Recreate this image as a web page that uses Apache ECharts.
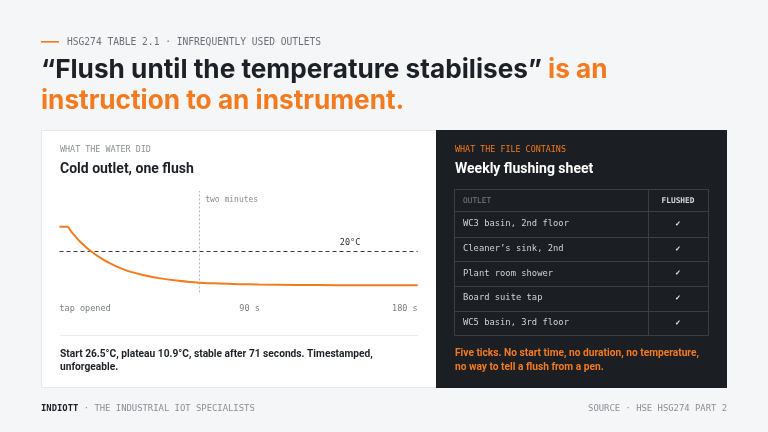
<!DOCTYPE html>
<html><head><meta charset="utf-8">
<script src="https://cdn.jsdelivr.net/npm/echarts@6/dist/echarts.min.js"></script>
<style>html,body{margin:0;padding:0;background:#f5f6f8}#c{width:768px;height:432px}</style>
</head><body><div id="c"></div>
<script>
// ---- data ----
const seconds = [0,4,6,8,10,12,14,16,18,20,23,26,30,35,40,45,50,60,70,80,90,100,120,140,160,180];
const tempC   = [26.5,26.5,25.1,23.9,22.7,21.7,20.7,19.9,19.1,18.4,17.4,16.6,15.6,14.6,13.9,13.3,12.8,12.1,11.6,11.4,11.2,11.1,11.0,10.9,10.9,10.9];
const thresholdC = 20;
const markerSeconds = 70;
const xTicks = {0:'tap opened', 90:'90 s', 180:'180 s'};
const outlets = ['WC3 basin, 2nd floor','Cleaner\u2019s sink, 2nd','Plant room shower','Board suite tap','WC5 basin, 3rd floor'];
const flushed = ['\u2713','\u2713','\u2713','\u2713','\u2713'];

const ORANGE = '#f47a1f';
const MONO = '"DejaVu Sans Mono", "Liberation Mono", monospace';
const SANS = 'Roboto, "Noto Sans", sans-serif';
const HEAD = 'Inter, Roboto, sans-serif';

const chart = echarts.init(document.getElementById('c'), null, {renderer:'canvas'});

const graphics = [];
function txt(x,y,text,font,fill,align,extra){
  graphics.push(Object.assign({type:'text', x:x, y:y, z:10, style:{text:text, font:font, fill:fill, textAlign:align||'left', textVerticalAlign:'middle'}}, extra||{}));
}
// header
graphics.push({type:'rect', shape:{x:41,y:41,width:18,height:1.6}, style:{fill:ORANGE}});
txt(67,42,'HSG274 TABLE 2.1 \u00b7 INFREQUENTLY USED OUTLETS','500 9.6px '+MONO,'#6b7078');
graphics.push({type:'text', x:41, y:70, style:{
  text:'{d|\u201cFlush until the temperature stabilises\u201d}{o| is an}',
  textVerticalAlign:'middle',
  rich:{d:{font:'bold 26.2px '+HEAD, fill:'#1d2127'}, o:{font:'bold 26.2px '+HEAD, fill:ORANGE}}}});
txt(41,101,'instruction to an instrument.','bold 26.2px '+HEAD,ORANGE);

// cards
graphics.push({type:'rect', shape:{x:41.5,y:130.5,width:395,height:257}, style:{fill:'#ffffff', stroke:'#e6e8eb', lineWidth:1}, z:0});
graphics.push({type:'rect', shape:{x:436,y:130,width:291,height:258}, style:{fill:'#1b1e23'}, z:0});

// left card text
txt(60,150,'WHAT THE WATER DID','8.4px '+MONO,'#8a8f96');
txt(60,169,'Cold outlet, one flush','bold 14px '+SANS,'#1d2127');
graphics.push({type:'rect', shape:{x:60,y:335,width:358,height:1}, style:{fill:'#e8eaed'}});
txt(60,354,'Start 26.5\u00b0C, plateau 10.9\u00b0C, stable after 71 seconds. Timestamped,','bold 10.2px '+SANS,'#1d2127');
txt(60,367,'unforgeable.','bold 10.2px '+SANS,'#1d2127');

// right card text
txt(455,150,'WHAT THE FILE CONTAINS','8.4px '+MONO,ORANGE);
txt(455,169,'Weekly flushing sheet','bold 14px '+SANS,'#ffffff');
// table
const tL=454.5, tR=708.5, colX=648.5, tTop=189.5, headB=211;
const rowB=[236.5,261,285.5,310.5,335.5];
graphics.push({type:'rect', shape:{x:tL,y:tTop,width:tR-tL,height:rowB[4]-tTop}, style:{fill:'none', stroke:'#3a3f47', lineWidth:1}, z:5});
graphics.push({type:'line', shape:{x1:colX,y1:tTop,x2:colX,y2:rowB[4]}, style:{stroke:'#3a3f47', lineWidth:1}, z:5});
[headB].concat(rowB.slice(0,4)).forEach(function(y){
  graphics.push({type:'line', shape:{x1:tL,y1:Math.round(y)+0.5,x2:tR,y2:Math.round(y)+0.5}, style:{stroke:'#3a3f47', lineWidth:1}, z:5});
});
txt(463,200.5,'OUTLET','7.8px '+MONO,'#7a8089');
txt(678,200.5,'FLUSHED','bold 7.8px '+MONO,'#d5d8dc','center');
let prev=headB;
outlets.forEach(function(o,i){
  const cy=(prev+rowB[i])/2; prev=rowB[i];
  txt(463,cy,o,'8.8px '+MONO,'#cfd3d8');
  txt(678,cy,flushed[i],'bold 7px '+SANS,'#e8eaed','center');
});
txt(455,353.5,'Five ticks. No start time, no duration, no temperature,','bold 10.2px '+SANS,ORANGE);
txt(455,367,'no way to tell a flush from a pen.','bold 10.2px '+SANS,ORANGE);

// footer
graphics.push({type:'text', x:41, y:408.5, style:{text:'{b|INDIOTT}{g| \u00b7 THE INDUSTRIAL IOT SPECIALISTS}', textVerticalAlign:'middle',
  rich:{b:{font:'bold 8.9px '+MONO, fill:'#1d2127'}, g:{font:'8.9px '+MONO, fill:'#8a8f96'}}}});
txt(727,408.5,'SOURCE \u00b7 HSE HSG274 PART 2','8.9px '+MONO,'#8a8f96','right');

const option = {
  backgroundColor:'#f5f6f8',
  animation:false,
  graphic: graphics,
  grid:{left:59.5, top:191, width:358.2, height:101.4, containLabel:false},
  xAxis:{type:'value', min:0, max:180, interval:90,
    axisLine:{show:false}, axisTick:{show:false}, splitLine:{show:false},
    axisLabel:{show:true, margin:12, alignMinLabel:'left', alignMaxLabel:'right', color:'#777c84', fontFamily:MONO, fontSize:8.5,
      formatter:function(v){ return v===90 ? '{m|'+xTicks[v]+'}' : (xTicks[v]||''); },
      rich:{m:{padding:[0,0,0,22], color:'#777c84', fontFamily:MONO, fontSize:8.5}}}},
  yAxis:{type:'value', min:9, max:36, show:false, splitLine:{show:false}},
  series:[{
    type:'line', data: seconds.map(function(s,i){return [s,tempC[i]];}),
    showSymbol:false, smooth:0.2, z:5,
    lineStyle:{color:ORANGE, width:2},
    markLine:{silent:true, symbol:['none','none'], label:{show:false},
      data:[
        {yAxis:thresholdC, lineStyle:{color:'#3a3d42', width:1, type:[4,3]}},
        {xAxis:markerSeconds, lineStyle:{color:'#b3b7bd', width:1, type:[2,2]}}
      ]},
    markPoint:{silent:true, symbolSize:0,
      data:[
        {coord:[73.2,33.6], label:{show:true, position:'inside', align:'left', formatter:'two minutes', color:'#8a8f96', fontFamily:MONO, fontSize:8}},
        {coord:[146,22.2], label:{show:true, position:'inside', align:'center', formatter:thresholdC+'\u00b0C', color:'#2b2f35', fontFamily:MONO, fontSize:8.5}}
      ]}
  }]
};
chart.setOption(option);
</script></body></html>
